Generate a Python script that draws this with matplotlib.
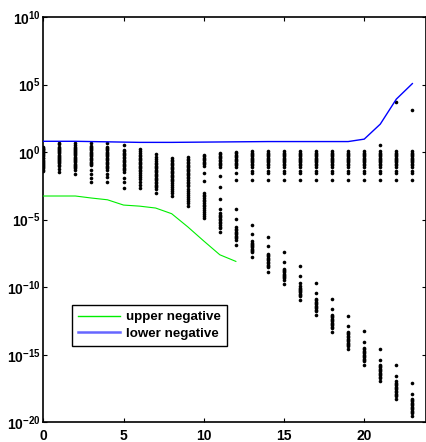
import numpy as np
import matplotlib
matplotlib.use("Agg")
import matplotlib.pyplot as plt
from matplotlib.ticker import FixedLocator, FuncFormatter
from matplotlib.lines import Line2D

plt.rcParams["font.family"] = ["Liberation Sans", "DejaVu Sans"]
plt.rcParams["font.weight"] = "bold"
plt.rcParams["mathtext.fontset"] = "custom"
plt.rcParams["mathtext.rm"] = "Liberation Sans:bold"
plt.rcParams["mathtext.bf"] = "Liberation Sans:bold"
plt.rcParams["mathtext.it"] = "Liberation Sans:bold"
plt.rcParams["mathtext.default"] = "bf"

# ---- data (all magnitudes given as log10 exponents) ----
steps = list(range(24))

upper_steps = list(range(13))
upper_negative_exp = [-3.25, -3.25, -3.25, -3.40, -3.53, -3.92, -4.00, -4.14,
                      -4.56, -5.53, -6.58, -7.60, -8.09]

lower_negative_exp = [0.80, 0.80, 0.80, 0.78, 0.76, 0.74, 0.72, 0.72, 0.72,
                      0.73, 0.74, 0.75, 0.76, 0.77, 0.78, 0.78, 0.78, 0.78,
                      0.78, 0.78, 0.96, 2.07, 3.92, 5.07]

# cluster of eigenvalues that stays near 1 for the later steps
plateau_exp = [0.05, -0.04, -0.13, -0.22, -0.31, -0.40, -0.49, -0.58, -0.67,
               -0.76, -0.85, -0.95, -1.07, -1.38, -1.55, -2.05]

dot_columns = [
    [0.41, 0.33, 0.26, 0.20, 0.12, 0.05, -0.02, -0.10, -0.17, -0.25, -0.31,
     -0.40, -0.47, -0.55, -0.63, -0.70, -0.78, -0.86, -0.94, -1.02, -1.10,
     -1.20, -1.31, -1.43],
    [0.71, 0.60, 0.38, 0.30, 0.22, 0.14, 0.06, -0.02, -0.10, -0.18, -0.26,
     -0.34, -0.42, -0.50, -0.58, -0.66, -0.75, -0.84, -0.92, -1.00, -1.25,
     -1.50],
    [0.67, 0.52, 0.40, 0.31, 0.23, 0.15, 0.07, -0.01, -0.09, -0.17, -0.25,
     -0.34, -0.42, -0.50, -0.58, -0.67, -0.76, -0.85, -0.94, -1.03, -1.12,
     -1.21, -1.30, -1.60],
    [0.64, 0.48, 0.40, 0.31, 0.22, 0.13, 0.04, -0.05, -0.14, -0.23, -0.32,
     -0.41, -0.50, -0.60, -0.70, -0.80, -0.90, -0.97, -1.33, -1.60, -1.90,
     -2.25],
    [0.64, 0.40, 0.31, 0.22, 0.13, 0.04, -0.05, -0.14, -0.23, -0.32, -0.41,
     -0.50, -0.60, -0.70, -0.80, -0.90, -1.00, -1.10, -1.20, -1.33, -1.60,
     -1.85, -2.25],
    [0.49, 0.15, 0.05, -0.05, -0.15, -0.25, -0.35, -0.45, -0.55, -0.65, -0.75,
     -0.85, -0.95, -1.05, -1.15, -1.25, -1.35, -1.50, -1.90, -2.25, -2.66],
    [0.24, 0.05, -0.10, -0.20, -0.30, -0.40, -0.50, -0.60, -0.70, -0.80, -0.90,
     -1.00, -1.10, -1.20, -1.30, -1.40, -1.55, -1.70, -1.85, -2.00, -2.20,
     -2.40, -2.66],
    [-0.13, -0.35, -0.50, -0.69, -0.80, -0.90, -1.00, -1.10, -1.20, -1.30,
     -1.40, -1.50, -1.60, -1.70, -1.80, -1.90, -2.00, -2.10, -2.20, -2.30,
     -2.40, -2.50, -2.60, -2.75, -3.03],
    [-0.44, -0.57, -0.67, -0.77, -0.87, -0.97, -1.07, -1.17, -1.27, -1.37,
     -1.47, -1.57, -1.67, -1.77, -1.87, -1.97, -2.07, -2.17, -2.30, -2.45,
     -2.60, -2.75, -2.90, -3.05, -3.23],
    [-0.37, -0.52, -0.62, -0.72, -0.82, -0.92, -1.02, -1.12, -1.22, -1.32,
     -1.42, -1.52, -1.62, -1.72, -1.82, -1.92, -2.05, -2.20, -2.30, -2.42,
     -2.54, -2.70, -2.85, -3.00, -3.15, -3.30, -3.45, -3.60, -3.75, -3.97],
    [-0.20, -0.30, -0.40, -0.50, -0.60, -0.70, -0.80, -0.90, -1.00, -1.55,
     -2.17, -3.03, -3.15, -3.27, -3.40, -3.52, -3.64, -3.76, -3.88, -4.00,
     -4.15, -4.30, -4.45, -4.60, -4.75, -4.88],
    [-0.07, -0.17, -0.27, -0.37, -0.47, -0.57, -0.67, -0.77, -0.87, -0.97,
     -1.11, -1.80, -2.59, -3.45, -4.19, -4.51, -4.62, -4.73, -4.84, -4.95,
     -5.06, -5.17, -5.28, -5.40, -5.51, -5.62, -5.92],
    [0.02, -0.08, -0.18, -0.28, -0.38, -0.48, -0.58, -0.68, -0.78, -0.88,
     -0.98, -1.09, -1.51, -2.10, -4.22, -4.96, -5.58, -5.68, -5.78, -5.88,
     -5.98, -6.08, -6.18, -6.28, -6.38, -6.49, -6.91],
    plateau_exp + [-5.38, -6.07, -6.61, -6.70, -6.79, -6.88, -6.97, -7.06,
                   -7.15, -7.24, -7.33, -7.43, -7.77],
    plateau_exp + [-6.29, -6.98, -7.52, -7.62, -7.72, -7.82, -7.92, -8.02,
                   -8.12, -8.22, -8.32, -8.42, -8.50, -8.88],
    plateau_exp + [-7.40, -8.14, -8.63, -8.72, -8.81, -8.90, -8.99, -9.08,
                   -9.17, -9.26, -9.35, -9.45, -9.74],
    plateau_exp + [-8.46, -9.15, -9.69, -9.94, -10.03, -10.12, -10.21, -10.30,
                   -10.39, -10.48, -10.56, -10.63, -10.98],
    plateau_exp + [-9.69, -10.43, -10.87, -10.97, -11.07, -11.17, -11.27,
                   -11.37, -11.47, -11.57, -11.68, -11.79, -12.09],
    plateau_exp + [-10.85, -11.59, -12.03, -12.13, -12.23, -12.33, -12.43,
                   -12.53, -12.63, -12.73, -12.83, -12.93, -13.02, -13.34],
    plateau_exp + [-12.10, -12.85, -13.30, -13.40, -13.50, -13.60, -13.70,
                   -13.80, -13.90, -14.00, -14.10, -14.20, -14.30, -14.38,
                   -14.55],
    plateau_exp + [-13.27, -14.05, -14.50, -14.60, -14.70, -14.80, -14.90,
                   -15.00, -15.10, -15.20, -15.30, -15.40, -15.49, -15.75],
    plateau_exp + [0.54, -14.57, -15.36, -15.73, -15.83, -15.93, -16.03,
                   -16.13, -16.23, -16.33, -16.43, -16.53, -16.63, -16.72,
                   -16.97],
    plateau_exp + [3.70, -15.75, -16.55, -16.97, -17.07, -17.17, -17.27,
                   -17.37, -17.47, -17.57, -17.67, -17.77, -17.87, -17.95,
                   -18.03, -18.25],
    plateau_exp + [3.10, -17.09, -17.90, -18.25, -18.35, -18.45, -18.55,
                   -18.65, -18.75, -18.85, -18.95, -19.05, -19.15, -19.22,
                   -19.30, -19.56],
]

y_ticks_exp = [-20, -15, -10, -5, 0, 5, 10]
x_ticks = [0, 5, 10, 15, 20]

# ---- figure ----
W, H = 427, 442
fig = plt.figure(figsize=(W / 100, H / 100), dpi=100)
left_px, right_px, top_px, bottom_px = 43.3, 426.0, 17.0, 422.3
ax = fig.add_axes([left_px / W, 1 - bottom_px / H,
                   (right_px - left_px) / W, (bottom_px - top_px) / H])

for x, col in zip(steps, dot_columns):
    ax.plot([x] * len(col), 10.0 ** np.array(col), linestyle="none",
            marker="o", markersize=2.6, markeredgewidth=0, color="black",
            zorder=2)

ax.plot(upper_steps, 10.0 ** np.array(upper_negative_exp), color="#00ee00",
        linewidth=0.8, zorder=3)
ax.plot(steps, 10.0 ** np.array(lower_negative_exp), color="#0000ff",
        linewidth=1.0, zorder=3)

ax.set_yscale("log")
ax.set_ylim(1e-20, 1e10)
ax.set_xlim(0, 23.85)

ax.yaxis.set_major_locator(FixedLocator([10.0 ** e for e in y_ticks_exp]))
ax.yaxis.set_minor_locator(FixedLocator([]))
ax.yaxis.set_major_formatter(
    FuncFormatter(lambda v, p: r"$\mathbf{10^{%d}}$" % int(round(np.log10(v)))))
ax.xaxis.set_major_locator(FixedLocator(x_ticks))

ax.tick_params(axis="both", which="major", direction="in", length=3,
               width=0.8, top=True, right=True, labelsize=10)
ax.tick_params(axis="x", pad=4.5)
ax.tick_params(axis="y", pad=2.0)
for lab in ax.get_xticklabels() + ax.get_yticklabels():
    lab.set_fontweight("bold")
for sp in ax.spines.values():
    sp.set_linewidth(1.2)

handles = [Line2D([], [], color="#00ee00", linewidth=1.0),
           Line2D([], [], color="#6666ff", linewidth=1.8)]
leg = ax.legend(handles, ["upper negative", "lower negative"],
                loc="lower left", bbox_to_anchor=(0.074, 0.189),
                borderaxespad=0, frameon=True, fancybox=False,
                edgecolor="black", framealpha=1, handlelength=3.2,
                handletextpad=0.45, labelspacing=0.3, borderpad=0.45,
                prop={"weight": "bold", "size": 9.6})
leg.get_frame().set_linewidth(1.0)

fig.savefig("out.png", dpi=100)
